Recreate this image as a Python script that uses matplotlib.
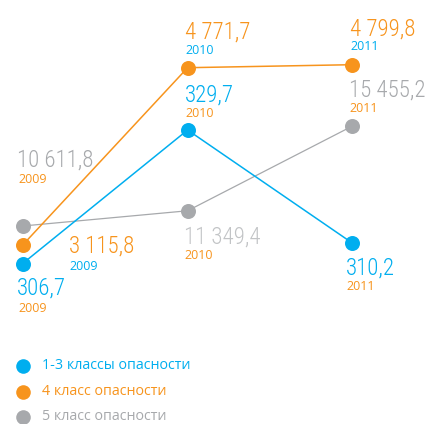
import matplotlib
matplotlib.use("Agg")
import matplotlib.pyplot as plt
from matplotlib import font_manager
from matplotlib.lines import Line2D

# Waste generation by hazard class, 2009-2011 (each series on its own scale)
years = ["2009", "2010", "2011"]
hazard_1_3 = [306.7, 329.7, 310.2]
hazard_4 = [3115.8, 4771.7, 4799.8]
hazard_5 = [10611.8, 11349.4, 15455.2]
legend_labels = ["1-3 классы опасности", "4 класс опасности", "5 класс опасности"]

BLUE = "#00AEEF"
ORANGE = "#F7941D"
GRAY = "#A7A9AC"
LIGHT_GRAY = "#C2C4C6"

W, H = 427, 424
fig = plt.figure(figsize=(W / 100, H / 100), dpi=100)
fig.patch.set_facecolor("white")

# Prefer a narrow face for the big value labels
installed = {f.name for f in font_manager.fontManager.ttflist}
narrow = next((n for n in ["Roboto Condensed", "Liberation Sans Narrow",
                           "Open Sans Condensed", "Noto Sans Condensed"]
               if n in installed), None)
if narrow:
    VALUE_FONT = dict(family=[narrow, "DejaVu Sans"], fontweight="light", fontsize=16.5)
else:
    VALUE_FONT = dict(family=["DejaVu Sans"], fontstretch="condensed", fontsize=14)
YEAR_FONT = dict(family=["Open Sans", "DejaVu Sans"], fontsize=9)
LEGEND_FONT = dict(family=["Open Sans", "DejaVu Sans"], fontsize=10.3)

# x layout: first year at 22.7 px, 164.9 px between years
x0_px, step_px = 22.7, 164.9
base = fig.add_axes([0, 0, 1, 1])
base.set_xlim(-x0_px / step_px, (W - x0_px) / step_px)
base.set_axis_off()


def limits(v1, py1, v2, py2):
    """y-limits placing value v1 at pixel row py1 and v2 at py2 (rows from top)."""
    f1, f2 = 1 - py1 / H, 1 - py2 / H
    slope = (f2 - f1) / (v2 - v1)
    lo = v1 - f1 / slope
    return lo, lo + 1 / slope


def fmt(v):
    return f"{v:,.1f}".replace(",", " ").replace(".", ",")


# anchors: (index of first point, its pixel row), (index of second point, its pixel row)
series = [
    dict(values=hazard_5, color=GRAY, lw=0.9, anchors=((0, 226), (2, 126)),
         value_colors=[GRAY, LIGHT_GRAY, GRAY],
         year_colors=[ORANGE, ORANGE, ORANGE],
         offsets=[((-5.5, 59), (-4.5, 43)), ((-4, -33), (-3, -48)), ((-3.5, 29), (-3, 14))]),
    dict(values=hazard_4, color=ORANGE, lw=1.1, anchors=((0, 245), (1, 67.7)),
         value_colors=[ORANGE] * 3,
         year_colors=[BLUE, BLUE, BLUE],
         offsets=[((46, -8), (47, -25)), ((-3, 29.5), (-2, 13.5)), ((-2.7, 29.3), (-2, 14.3))]),
    dict(values=hazard_1_3, color=BLUE, lw=1.1, anchors=((0, 263.5), (1, 130)),
         value_colors=[BLUE] * 3,
         year_colors=[ORANGE, ORANGE, ORANGE],
         offsets=[((-5.5, -31), (-4.5, -48)), ((-3, 28), (-2, 13)), ((-6.5, -31.3), (-6, -47))]),
]

xs = list(range(len(years)))
for k, s in enumerate(series):
    ax = base if k == 0 else base.twinx()
    ax.set_position([0, 0, 1, 1])
    v = s["values"]
    (i1, r1), (i2, r2) = s["anchors"]
    ax.set_ylim(*limits(v[i1], r1, v[i2], r2))
    ax.set_axis_off()
    ax.plot(xs, v, color=s["color"], lw=s["lw"], marker="o", markersize=10.8,
            markeredgewidth=0, solid_capstyle="butt", clip_on=False, zorder=3)
    for i, val in enumerate(v):
        (vdx, vdy), (ydx, ydy) = s["offsets"][i]
        ax.annotate(fmt(val), xy=(i, val), xytext=(vdx, vdy),
                    textcoords="offset pixels", ha="left", va="baseline",
                    color=s["value_colors"][i], annotation_clip=False, **VALUE_FONT)
        ax.annotate(years[i], xy=(i, val), xytext=(ydx, ydy),
                    textcoords="offset pixels", ha="left", va="baseline",
                    color=s["year_colors"][i], annotation_clip=False, **YEAR_FONT)

# Legend: colour dot followed by the class name in the same colour
legend_colors = [BLUE, ORANGE, GRAY]
legend_rows = [365.5, 391.5, 417]
for label, color, row in zip(legend_labels, legend_colors, legend_rows):
    y = 1 - row / H
    fig.add_artist(Line2D([22.5 / W], [y], transform=fig.transFigure, marker="o",
                          markersize=10.5, markeredgewidth=0, color=color, linestyle="none"))
    fig.text(42 / W, y, label, color=color, ha="left", va="center", **LEGEND_FONT)

fig.savefig("out.png", dpi=100, facecolor="white")
